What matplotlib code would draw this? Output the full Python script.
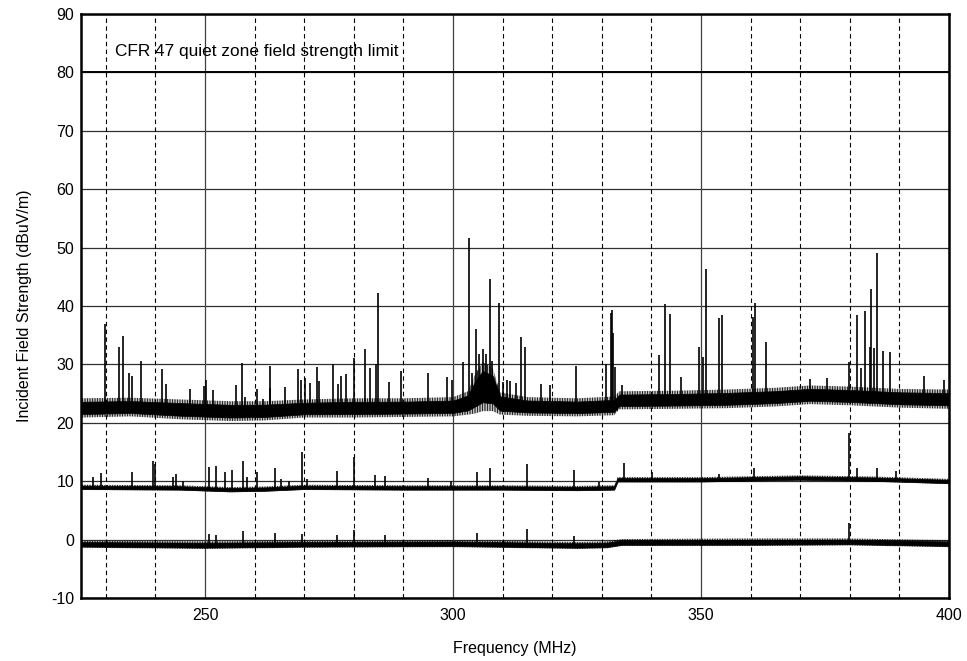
import matplotlib
matplotlib.use("Agg")
import matplotlib.pyplot as plt
import numpy as np

plt.rcParams['font.family'] = ['Liberation Sans', 'DejaVu Sans']
plt.rcParams['axes.unicode_minus'] = False
plt.rcParams['hatch.linewidth'] = 0.6

# ---- axis settings ----
x_range = (225, 400)
y_range = (-10, 90)
x_major = [250, 300, 350, 400]
x_minor = [230, 240, 260, 270, 280, 290, 310, 320, 330, 340, 360, 370, 380, 390]
y_ticks = [-10, 0, 10, 20, 30, 40, 50, 60, 70, 80, 90]
limit_level = 80
limit_label = "CFR 47 quiet zone field strength limit"

# ---- upper trace: noise band envelope (MHz, dBuV/m) ----
upper_freq = [225, 235, 245, 255, 262, 270, 280, 290, 300, 303, 304.5, 306, 308, 309.5,
              315, 325, 332.5, 333.5, 345, 355, 365, 372, 380, 390, 400]
upper_low = [20.9, 21.1, 20.6, 20.3, 20.4, 20.9, 20.9, 21.0, 21.1, 21.4, 21.6, 22.0, 22.0, 21.4,
             21.2, 21.1, 21.3, 22.3, 22.4, 22.5, 22.8, 23.2, 23.0, 22.6, 22.4]
upper_high = [24.2, 24.3, 24.0, 23.7, 23.7, 24.0, 24.2, 24.2, 24.4, 25.4, 28.4, 30.4, 29.4, 25.2,
              24.4, 24.2, 24.5, 25.4, 25.5, 25.7, 26.0, 26.4, 26.2, 25.8, 25.7]

# upper trace: discrete emissions (MHz, peak dBuV/m)
upper_spike_freq = [229.9, 232.7, 233.5, 234.7, 235.2, 237.1, 241.3, 242.1, 247.0, 249.7,
                    250.1, 251.6, 256.2, 257.5, 258.1, 260.4, 261.6, 263.0, 263.1, 266.1,
                    268.8, 269.4, 270.2, 271.2, 272.5, 272.9, 275.9, 276.9, 277.5, 278.4,
                    280.0, 282.3, 283.3, 284.4, 284.9, 287.1, 289.5, 294.9, 298.7, 299.7,
                    302.0, 303.2, 303.9, 304.6, 305.3, 306.0, 306.6, 307.5, 307.9, 309.3,
                    310.0, 310.8, 311.5, 312.6, 313.8, 314.5, 317.7, 319.6, 324.8, 330.8,
                    331.9, 332.1, 332.3, 332.6, 334.0, 341.5, 342.7, 343.8, 345.9, 349.6,
                    350.5, 351.1, 353.6, 354.2, 360.5, 360.8, 363.2, 372.0, 375.5, 379.9,
                    381.4, 382.2, 383.1, 384.1, 384.3, 384.8, 385.5, 386.7, 388.1, 395.0,
                    399.0]
upper_spike_peak = [36.9, 33.0, 34.9, 28.6, 28.0, 30.6, 29.2, 26.6, 25.8, 26.3,
                    27.3, 25.6, 26.5, 30.2, 24.5, 25.8, 24.0, 29.7, 26.0, 26.2,
                    29.2, 27.4, 27.7, 26.8, 29.6, 27.2, 30.1, 26.6, 28.0, 28.4,
                    31.1, 32.6, 29.4, 30.1, 42.3, 27.0, 28.9, 28.6, 27.9, 27.4,
                    30.4, 51.6, 28.5, 36.1, 31.7, 32.6, 31.7, 44.6, 30.6, 40.6,
                    27.0, 27.3, 27.2, 26.8, 34.7, 33.0, 26.7, 26.4, 29.8, 30.1,
                    38.8, 39.3, 35.3, 29.6, 26.5, 31.6, 40.3, 38.6, 27.9, 32.9,
                    31.2, 46.3, 37.9, 38.4, 38.2, 40.6, 33.9, 27.5, 27.6, 30.4,
                    38.4, 29.3, 39.2, 32.9, 42.9, 32.8, 49.1, 32.3, 32.2, 28.0,
                    27.4]

# ---- middle trace ----
middle_freq = [225, 245, 255, 262, 270, 290, 310, 325, 332.5, 333.2, 350, 370, 385, 400]
middle_low = [8.5, 8.4, 8.1, 8.2, 8.5, 8.4, 8.4, 8.3, 8.4, 9.8, 9.8, 10.1, 9.9, 9.5]
middle_high = [9.4, 9.3, 9.0, 9.1, 9.4, 9.3, 9.3, 9.2, 9.3, 10.7, 10.7, 11.0, 10.8, 10.4]

middle_spike_freq = [227.4, 229.0, 235.2, 239.5, 240.0, 243.6, 244.2, 245.6, 250.7, 252.2,
                     254.0, 255.4, 257.6, 258.5, 260.5, 264.2, 265.3, 266.9, 269.5, 270.5,
                     276.7, 280.1, 284.2, 286.2, 294.9, 299.5, 304.8, 307.4, 314.9, 324.4,
                     329.4, 334.4, 340.1, 353.6, 360.7, 379.9, 381.5, 385.5, 389.3]
middle_spike_peak = [10.7, 11.4, 11.6, 13.5, 13.0, 10.7, 11.2, 10.0, 12.4, 12.6,
                     11.6, 12.0, 13.5, 10.7, 11.5, 12.3, 10.3, 10.1, 15.0, 10.3,
                     11.8, 14.1, 11.0, 10.9, 10.5, 10.1, 11.6, 12.2, 12.9, 11.9,
                     9.8, 13.1, 11.6, 11.3, 12.3, 18.2, 12.2, 12.2, 11.7]

# ---- lower trace ----
lower_freq = [225, 250, 270, 300, 325, 331, 334, 360, 380, 400]
lower_low = [-1.4, -1.6, -1.4, -1.3, -1.6, -1.5, -1.1, -1.1, -1.0, -1.3]
lower_high = [-0.2, -0.3, -0.2, -0.1, -0.4, -0.3, 0.1, 0.2, 0.2, -0.1]

lower_spike_freq = [250.7, 252.2, 257.6, 264.2, 269.5, 276.7, 280.1, 286.2, 304.8, 314.9,
                    324.4, 379.9]
lower_spike_peak = [1.0, 0.8, 1.4, 1.2, 1.0, 0.8, 1.7, 0.8, 1.1, 1.8, 0.6, 2.8]

fig = plt.figure(figsize=(9.67, 6.61), dpi=100)
ax = fig.add_axes([0.0838, 0.0953, 0.8976, 0.8835])

# grid: horizontal solid, vertical solid at majors, dashed at minors
for y in y_ticks:
    ax.axhline(y, color="#303030", lw=0.9, zorder=1)
for x in x_major:
    ax.axvline(x, color="#404040", lw=0.9, zorder=1)
for x in x_minor:
    ax.axvline(x, color="black", lw=0.8, ls=(0, (4, 3)), zorder=1)

ax.axhline(limit_level, color="black", lw=1.4, zorder=2)


def draw_trace(freq, low, high, sfreq, speak):
    freq = np.asarray(freq, float)
    low = np.asarray(low, float)
    high = np.asarray(high, float)
    span = high - low
    # outer fringe drawn as a fine vertical hatch, dense core solid
    ax.fill_between(freq, low, high, facecolor="none", edgecolor="black",
                    hatch="||||||||||", lw=0, zorder=3)
    ax.fill_between(freq, low + 0.18 * span, high - 0.18 * span,
                    color="black", lw=0.5, zorder=3)
    sfreq = np.asarray(sfreq, float)
    base = np.interp(sfreq, freq, (low + high) / 2)
    ax.vlines(sfreq, base, speak, color="black", lw=1.2, zorder=4)


draw_trace(upper_freq, upper_low, upper_high, upper_spike_freq, upper_spike_peak)
draw_trace(middle_freq, middle_low, middle_high, middle_spike_freq, middle_spike_peak)
draw_trace(lower_freq, lower_low, lower_high, lower_spike_freq, lower_spike_peak)

ax.text(231.9, 83.5, limit_label, fontsize=12.4, va="center", ha="left", zorder=5)

ax.set_xlim(*x_range)
ax.set_ylim(*y_range)
ax.set_xticks(x_major)
ax.set_yticks(y_ticks)
ax.tick_params(axis="x", length=0, labelsize=11.5, pad=7)
ax.tick_params(axis="y", length=0, labelsize=11.5, pad=5)
for s in ax.spines.values():
    s.set_linewidth(1.8)
    s.set_color("black")
    s.set_zorder(6)

ax.set_xlabel("Frequency (MHz)", fontsize=11.5, labelpad=13)
ax.set_ylabel("Incident Field Strength (dBuV/m)", fontsize=11.5, labelpad=14)

fig.savefig("out.png", dpi=100)
